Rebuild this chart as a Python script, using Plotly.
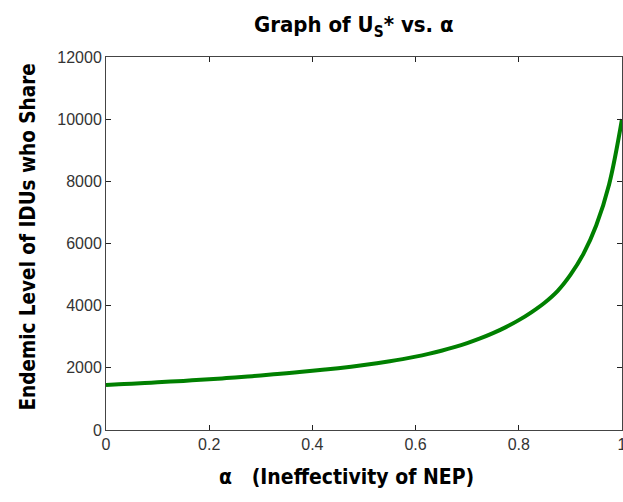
import plotly.graph_objects as go

alpha = [0.0, 0.025, 0.05, 0.075, 0.1, 0.125, 0.15, 0.175, 0.2, 0.225, 0.25, 0.275,
         0.3, 0.325, 0.35, 0.375, 0.4, 0.425, 0.45, 0.475, 0.5, 0.525, 0.55, 0.575,
         0.6, 0.625, 0.65, 0.675, 0.7, 0.725, 0.75, 0.775, 0.8, 0.825, 0.85, 0.875,
         0.9, 0.925, 0.95, 0.975, 1.0]
us_star = [1450, 1470, 1490, 1512, 1535, 1557, 1580, 1605, 1630, 1660, 1690, 1722,
           1755, 1790, 1825, 1865, 1905, 1947, 1990, 2038, 2090, 2148, 2210, 2280,
           2360, 2450, 2550, 2665, 2795, 2945, 3115, 3310, 3535, 3795, 4095, 4470,
           4990, 5660, 6580, 7900, 10000]

x_ticks = [0, 0.2, 0.4, 0.6, 0.8, 1]
x_tick_labels = ["0", "0.2", "0.4", "0.6", "0.8", "1"]
y_ticks = [0, 2000, 4000, 6000, 8000, 10000, 12000]
y_tick_labels = ["0", "2000", "4000", "6000", "8000", "10000", "12000"]

title_text = "<b>Graph of U<sub>S</sub>* vs. α</b>"
x_title = "<b>α\u00a0\u00a0\u00a0(Ineffectivity of NEP)</b>"
y_title = "<b>Endemic Level of IDUs who Share</b>"

fig = go.Figure()
fig.add_trace(go.Scatter(x=alpha, y=us_star, mode="lines",
                         line=dict(color="#008000", width=4, shape="spline", smoothing=1.0),
                         showlegend=False, hoverinfo="skip"))

axis_common = dict(showgrid=False, zeroline=False, showline=True, linecolor="#444444",
                   linewidth=1, mirror="ticks", ticks="inside", ticklen=5,
                   tickcolor="#222222", tickwidth=1, automargin=False,
                   ticklabeloverflow="allow",
                   tickfont=dict(family="Liberation Sans, Arial, sans-serif", size=16, color="#333333"))

fig.update_xaxes(range=[0, 1], tickvals=x_ticks, ticktext=x_tick_labels, **axis_common)
fig.update_yaxes(range=[0, 12000], tickvals=y_ticks, ticktext=y_tick_labels, **axis_common)

fig.update_layout(
    width=623, height=502,
    margin=dict(l=106, r=1, t=57, b=72),
    plot_bgcolor="white", paper_bgcolor="white",
    annotations=[
        dict(text=title_text, xref="paper", yref="paper", x=0.48, y=1, yshift=31,
             showarrow=False, xanchor="center", yanchor="middle",
             font=dict(family="DejaVu Sans Condensed, DejaVu Sans, sans-serif", size=22, color="#000000")),
        dict(text=x_title, xref="paper", yref="paper", x=0.5, y=0, yshift=-47, xshift=-18,
             showarrow=False, xanchor="center", yanchor="middle",
             font=dict(family="DejaVu Sans Condensed, DejaVu Sans, sans-serif", size=21, color="#000000")),
        dict(text=y_title, xref="paper", yref="paper", x=0, y=0.5, xshift=-79, yshift=6,
             showarrow=False, xanchor="center", yanchor="middle", textangle=-90,
             font=dict(family="DejaVu Sans Condensed, DejaVu Sans, sans-serif", size=20.5, color="#000000")),
    ],
)

fig.write_html("out.html", config={"displayModeBar": False},
               post_script="document.body.style.margin='0px';")
